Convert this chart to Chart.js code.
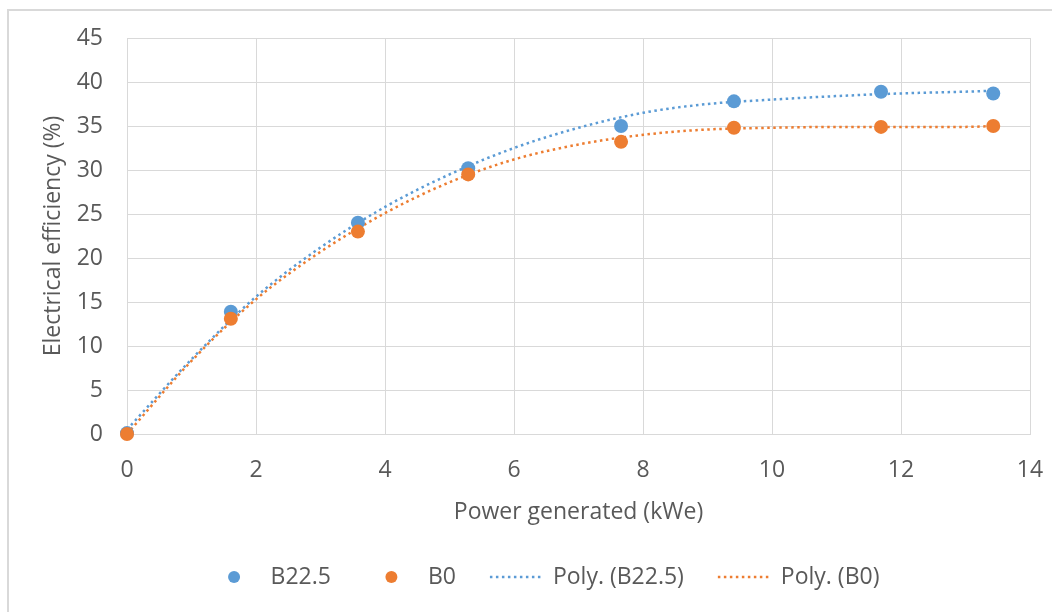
<!DOCTYPE html>
<html lang="en">
<head>
  <meta charset="UTF-8" />
  <title>Electrical efficiency vs power generated</title>
  <script src="https://cdn.jsdelivr.net/npm/chart.js"></script>
  <style>
    * { box-sizing: border-box; }
    html, body {
      margin: 0;
      padding: 0;
      background: #ffffff;
    }
    .chart-box {
      position: relative;
      width: 1052px;
      height: 612px;
    }
  </style>
</head>
<body>
  <div class="chart-box">
    <canvas id="effChart" width="1052" height="612"></canvas>
  </div>

  <script>
    // measured points
    const powerB225 = [0, 1.61, 3.58, 5.29, 7.66, 9.41, 11.69, 13.43];
    const effB225   = [0.1, 13.9, 24.0, 30.2, 35.0, 37.8, 38.9, 38.7];
    const powerB0   = [0, 1.61, 3.58, 5.29, 7.66, 9.41, 11.69, 13.43];
    const effB0     = [0, 13.1, 23.0, 29.5, 33.2, 34.8, 34.9, 35.0];

    // trend lines
    const trendX     = [0, 1, 2, 3, 4, 5, 6, 7, 8, 9, 10, 11, 12, 13, 13.43];
    const trendB225  = [0.5, 8.5, 15.6, 21.2, 25.8, 29.5, 32.5, 34.8, 36.5, 37.5, 38.0, 38.4, 38.7, 38.9, 39.0];
    const trendB0    = [0.0, 8.3, 15.3, 20.7, 25.1, 28.6, 31.2, 32.9, 34.0, 34.6, 34.8, 34.9, 34.9, 34.9, 35.0];

    const legendLabels = ['B22.5', 'B0', 'Poly. (B22.5)', 'Poly. (B0)'];

    const BLUE = '#5B9BD5';
    const ORANGE = '#ED7D31';
    const TEXT = '#595959';
    const GRID = '#d9d9d9';
    const FONT = "'Open Sans', sans-serif";

    const toPoints = (xs, ys) => xs.map((x, i) => ({ x: x, y: ys[i] }));

    // light frame like the exported chart area (top + left edges visible)
    const framePlugin = {
      id: 'frame',
      beforeDraw(chart) {
        const ctx = chart.ctx;
        ctx.save();
        ctx.fillStyle = '#ffffff';
        ctx.fillRect(0, 0, chart.width, chart.height);
        ctx.strokeStyle = GRID;
        ctx.lineWidth = 2;
        ctx.strokeRect(8, 10, chart.width + 20, chart.height + 20);
        ctx.restore();
      }
    };

    // Excel style legend: every entry has a 55px symbol slot
    const legendPlugin = {
      id: 'excelLegend',
      afterDraw(chart) {
        const ctx = chart.ctx;
        const y = 577;
        const slot = 55, gapText = 9, gapItem = 33;
        ctx.save();
        ctx.font = '23px ' + FONT;
        ctx.textBaseline = 'middle';
        const widths = legendLabels.map(t => ctx.measureText(t).width);
        let total = 0;
        widths.forEach((w, i) => { total += slot + gapText + w + (i < widths.length - 1 ? gapItem : 0); });
        let x = 543 - total / 2;
        chart.data.datasets.forEach((ds, i) => {
          const cx = x + slot / 2;
          if (ds.showLine) {
            ctx.strokeStyle = ds.borderColor;
            ctx.lineWidth = ds.borderWidth;
            ctx.setLineDash(ds.borderDash);
            ctx.beginPath();
            ctx.moveTo(x + 1, y);
            ctx.lineTo(x + slot - 1, y);
            ctx.stroke();
            ctx.setLineDash([]);
          } else {
            ctx.fillStyle = ds.backgroundColor;
            ctx.beginPath();
            ctx.arc(cx, y, 6, 0, Math.PI * 2);
            ctx.fill();
          }
          ctx.fillStyle = TEXT;
          ctx.fillText(legendLabels[i], x + slot + gapText, y);
          x += slot + gapText + widths[i] + gapItem;
        });
        ctx.restore();
      }
    };

    new Chart(document.getElementById('effChart'), {
      type: 'scatter',
      data: {
        datasets: [
          {
            label: legendLabels[0],
            data: toPoints(powerB225, effB225),
            backgroundColor: BLUE,
            borderColor: BLUE,
            pointRadius: 7,
            pointHoverRadius: 7,
            borderWidth: 0,
            clip: false,
            order: 1
          },
          {
            label: legendLabels[1],
            data: toPoints(powerB0, effB0),
            backgroundColor: ORANGE,
            borderColor: ORANGE,
            pointRadius: 7,
            pointHoverRadius: 7,
            borderWidth: 0,
            clip: false,
            order: 0
          },
          {
            label: legendLabels[2],
            data: toPoints(trendX, trendB225),
            showLine: true,
            borderColor: BLUE,
            backgroundColor: BLUE,
            borderWidth: 2.5,
            borderDash: [2.5, 3.5],
            pointRadius: 0,
            cubicInterpolationMode: 'monotone',
            order: 2
          },
          {
            label: legendLabels[3],
            data: toPoints(trendX, trendB0),
            showLine: true,
            borderColor: ORANGE,
            backgroundColor: ORANGE,
            borderWidth: 2.5,
            borderDash: [2.5, 3.5],
            pointRadius: 0,
            cubicInterpolationMode: 'monotone',
            order: 3
          }
        ]
      },
      options: {
        responsive: false,
        animation: false,
        layout: { padding: { left: 0, top: 38, right: 22, bottom: 78 } },
        plugins: {
          legend: { display: false },
          tooltip: { enabled: false }
        },
        scales: {
          x: {
            type: 'linear',
            min: 0,
            max: 14,
            ticks: { stepSize: 2, color: TEXT, font: { family: FONT, size: 23 }, padding: 23, maxRotation: 0 },
            grid: { color: GRID, lineWidth: 1, drawTicks: false },
            border: { color: GRID, width: 1 },
            title: {
              display: true,
              text: 'Power generated (kWe)',
              color: TEXT,
              font: { family: FONT, size: 23 },
              padding: { top: 0, bottom: 8 }
            },
            afterFit(scale) {
              scale.height = 100;
              scale.paddingLeft = 0;
              scale.paddingRight = 0;
            }
          },
          y: {
            type: 'linear',
            min: 0,
            max: 45,
            ticks: { stepSize: 5, color: TEXT, font: { family: FONT, size: 23 }, padding: 24 },
            grid: { color: GRID, lineWidth: 1, drawTicks: false },
            border: { color: GRID, width: 1 },
            title: {
              display: true,
              text: 'Electrical efficiency (%)',
              color: TEXT,
              font: { family: FONT, size: 23 },
              padding: { top: 40, bottom: 0 }
            },
            afterFit(scale) {
              scale.width = 127;
              scale.paddingTop = 0;
              scale.paddingBottom = 0;
            }
          }
        }
      },
      plugins: [framePlugin, legendPlugin]
    });
  </script>
</body>
</html>
